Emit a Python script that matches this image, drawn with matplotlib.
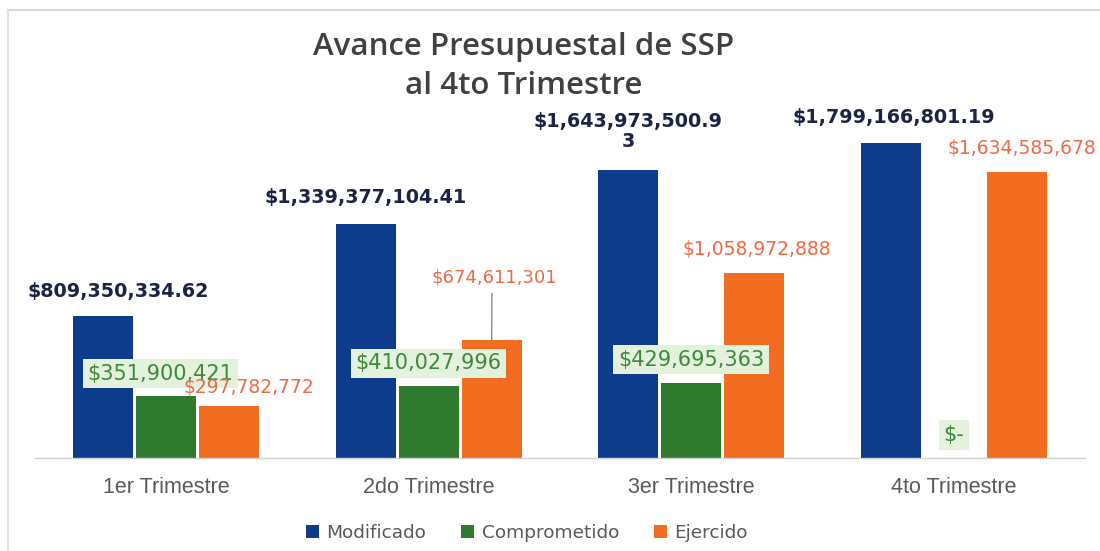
import numpy as np
import matplotlib
matplotlib.use('Agg')
import matplotlib.pyplot as plt
from matplotlib.lines import Line2D

# ---------------------------------------------------------------------------
# Datos
# ---------------------------------------------------------------------------
trimestres = ['1er Trimestre', '2do Trimestre', '3er Trimestre', '4to Trimestre']
modificado = [809350334.62, 1339377104.41, 1643973500.93, 1799166801.19]
comprometido = [351900421, 410027996, 429695363, 0]
ejercido = [297782772, 674611301, 1058972888, 1634585678]

etiq_modificado = ['$809,350,334.62', '$1,339,377,104.41',
                   '$1,643,973,500.9\n3', '$1,799,166,801.19']
etiq_comprometido = ['$351,900,421', '$410,027,996', '$429,695,363', '$-']
etiq_ejercido = ['$297,782,772', '$674,611,301', '$1,058,972,888', '$1,634,585,678']

# Colores
C_AZUL = '#0d3c8c'
C_VERDE = '#2f7a2c'
C_NARANJA = '#f26d1f'
T_AZUL = '#1b2444'
T_VERDE = '#3d8a3a'
T_NARANJA = '#ee6a45'
GRIS = '#595959'

fig = plt.figure(figsize=(11, 5.51), dpi=100)
fig.patch.set_facecolor('white')
# eje: 35px a 1085px, base en y=458px, escala ~175 px por mil millones
ax = fig.add_axes([0.0318, 0.1688, 0.9545, 0.65])

x = np.arange(len(trimestres))
paso = 0.24
ancho = 0.229

b1 = ax.bar(x - paso, modificado, ancho, color=C_AZUL, label='Modificado')
b2 = ax.bar(x, comprometido, ancho, color=C_VERDE, label='Comprometido')
b3 = ax.bar(x + paso, ejercido, ancho, color=C_NARANJA, label='Ejercido')

ax.set_xlim(-0.5, 3.5)
ax.set_ylim(0, 2.047e9)
ax.set_xticks(x)
ax.set_xticklabels(trimestres, fontsize=15.5, color=GRIS, family='Liberation Sans')
ax.tick_params(axis='x', length=0, pad=14)
ax.set_yticks([])
for s in ['top', 'right', 'left']:
    ax.spines[s].set_visible(False)
ax.spines['bottom'].set_color('#d0d0d0')
ax.spines['bottom'].set_linewidth(1)

# Etiquetas de Modificado (desplazamiento en puntos)
off_mod = [(11, 11), (0, 12), (0, 14), (2, 12)]
for i, (v, t) in enumerate(zip(modificado, etiq_modificado)):
    ax.annotate(t, (x[i] - paso, v), xytext=off_mod[i], textcoords='offset points',
                ha='center', va='bottom', fontsize=13.8, fontweight='bold',
                color=T_AZUL, linespacing=1.05)

# Etiquetas de Comprometido (con fondo verde claro)
for i, (v, t) in enumerate(zip(comprometido, etiq_comprometido)):
    ax.annotate(t, (x[i], v), xytext=(-4 if i == 0 else 0, 16.5), textcoords='offset points',
                ha='center', va='center', fontsize=15, color=T_VERDE,
                bbox=dict(boxstyle='square,pad=0.22', fc='#e4f1dc', ec='none'))

# Etiquetas de Ejercido
off_eje = [(14, 13), (2, 45), (2, 17), (4, 17)]
for i, (v, t) in enumerate(zip(ejercido, etiq_ejercido)):
    if i == 1:
        ax.annotate(t, (x[i] + paso, v), xytext=off_eje[i], textcoords='offset points',
                    ha='center', va='center', fontsize=13, color=T_NARANJA,
                    arrowprops=dict(arrowstyle='-', color='#808080', lw=0.9,
                                    shrinkA=3, shrinkB=0,
                                    relpos=(0.48, 0.0)))
    else:
        ax.annotate(t, (x[i] + paso, v), xytext=off_eje[i], textcoords='offset points',
                    ha='center', va='center', fontsize=13.5, color=T_NARANJA)

# Título
fig.text(0.476, 0.8795, 'Avance Presupuestal de SSP\nal 4to Trimestre',
         ha='center', va='center', fontsize=22.5, color='#404040',
         family='Open Sans', fontweight='semibold', linespacing=1.4)

# Leyenda
fig.legend(handles=[b1, b2, b3], loc='center', bbox_to_anchor=(0.479, 0.033),
           ncol=3, frameon=False, fontsize=13.3, labelcolor=GRIS,
           handlelength=0.7, handleheight=0.7, handletextpad=0.4, columnspacing=1.9)

# Marco gris claro
fig.add_artist(Line2D([0.007, 1.0], [0.982, 0.982], color='#d8d8d8', lw=1.5,
                      transform=fig.transFigure))
fig.add_artist(Line2D([0.007, 0.007], [0.0, 0.982], color='#e0e0e0', lw=1.5,
                      transform=fig.transFigure))

fig.savefig('out.png', dpi=100, facecolor='white')
